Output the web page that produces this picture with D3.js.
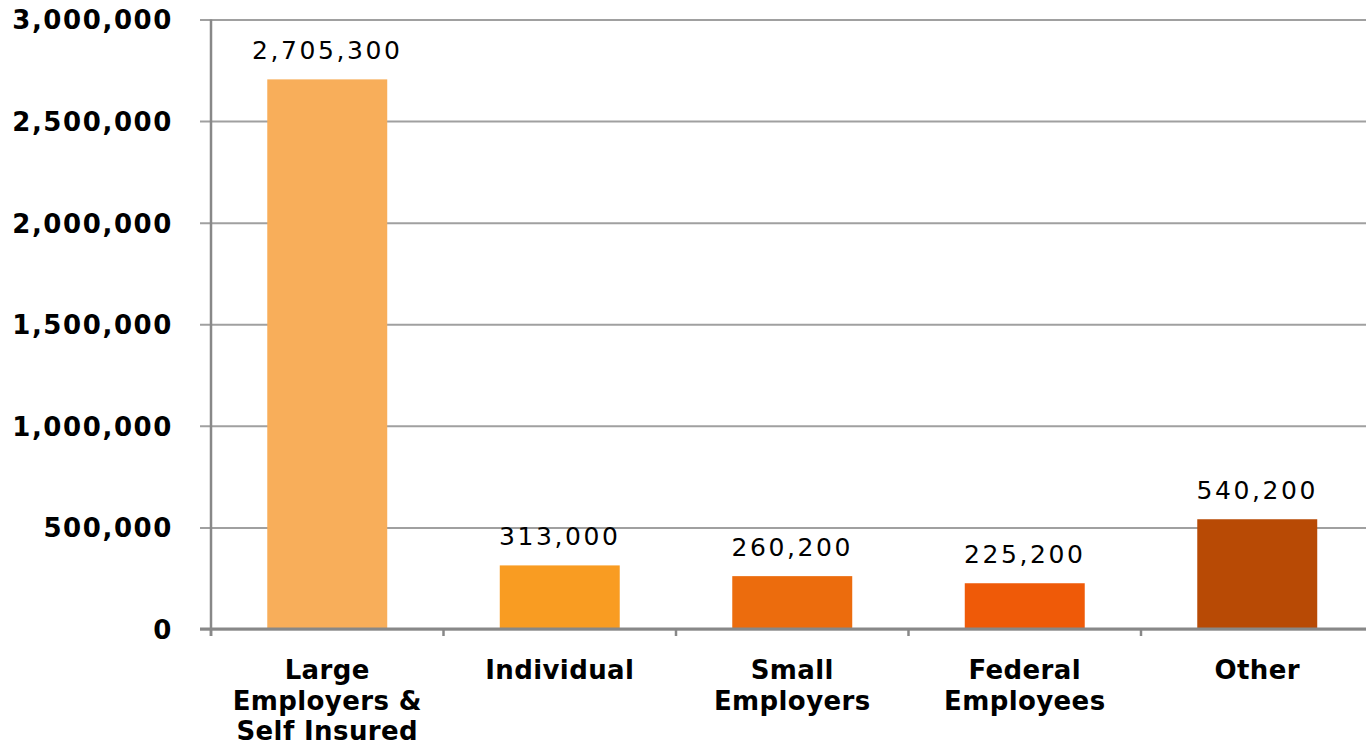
<!DOCTYPE html>
<html>
<head>
<meta charset="utf-8">
<script src="https://cdn.jsdelivr.net/npm/d3@7"></script>
<style>
  html, body { margin: 0; padding: 0; background: #fff; overflow: hidden; }
  svg { display: block; }
</style>
</head>
<body>
<svg id="chart" width="1366" height="748"></svg>
<script>
// Enrollment by coverage source
const categories = [
  ["Large", "Employers &", "Self Insured"],
  ["Individual"],
  ["Small", "Employers"],
  ["Federal", "Employees"],
  ["Other"]
];
const values = [2705300, 313000, 260200, 225200, 540200];
const barColors = ["#F8AE5A", "#F99C22", "#EC6C0D", "#EF5A08", "#B84A05"];
const yTicks = [0, 500000, 1000000, 1500000, 2000000, 2500000, 3000000];

const svg = d3.select("#chart");
const plotLeft = 211, plotRight = 1373.5, plotTop = 19.5, plotBottom = 629;

const x = d3.scaleBand()
  .domain(d3.range(values.length))
  .range([plotLeft, plotRight])
  .paddingInner(0.484)
  .paddingOuter(0.242);

const y = d3.scaleLinear().domain([0, 3000000]).range([plotBottom, plotTop]);

const fmt = d3.format(",");

// horizontal gridlines with left tick marks
const yAxis = d3.axisLeft(y).tickValues(yTicks).tickSize(-(plotRight - plotLeft)).tickSizeOuter(0).tickFormat(fmt).tickPadding(38);
const gy = svg.append("g").attr("transform", `translate(${plotLeft},0)`).call(yAxis);
gy.select(".domain").remove();
gy.selectAll(".tick line")
  .attr("x1", -11)
  .attr("stroke", "#a0a0a0")
  .attr("stroke-width", 2);
gy.selectAll(".tick text")
  .attr("font-family", "'DejaVu Sans', Verdana, sans-serif")
  .attr("font-weight", "bold")
  .attr("font-size", 26)
  .attr("letter-spacing", 1.6)
  .attr("fill", "#000")
  .attr("dy", "0.36em");

// bars
svg.append("g").selectAll("rect")
  .data(values)
  .join("rect")
  .attr("x", (d, i) => x(i))
  .attr("width", x.bandwidth())
  .attr("y", d => y(d))
  .attr("height", d => y(0) - y(d))
  .attr("fill", (d, i) => barColors[i]);

// value labels
svg.append("g").selectAll("text")
  .data(values)
  .join("text")
  .attr("x", (d, i) => x(i) + x.bandwidth() / 2)
  .attr("y", d => y(d) - 20)
  .attr("text-anchor", "middle")
  .attr("font-family", "'DejaVu Sans', Verdana, sans-serif")
  .attr("font-size", 25)
  .attr("letter-spacing", 2.6)
  .attr("fill", "#000")
  .text(d => fmt(d));

// y axis line
svg.append("line")
  .attr("x1", plotLeft).attr("x2", plotLeft)
  .attr("y1", plotTop).attr("y2", plotBottom + 7)
  .attr("stroke", "#888").attr("stroke-width", 2.5);

// x axis line with category boundary ticks
svg.append("line")
  .attr("x1", plotLeft - 11).attr("x2", plotRight)
  .attr("y1", plotBottom).attr("y2", plotBottom)
  .attr("stroke", "#888").attr("stroke-width", 3);

const step = x.step();
svg.append("g").selectAll("line")
  .data(d3.range(values.length + 1))
  .join("line")
  .attr("x1", i => plotLeft + i * step)
  .attr("x2", i => plotLeft + i * step)
  .attr("y1", plotBottom)
  .attr("y2", plotBottom + 7)
  .attr("stroke", "#888").attr("stroke-width", 2.5);

// category labels
const cat = svg.append("g").selectAll("text")
  .data(categories)
  .join("text")
  .attr("x", (d, i) => x(i) + x.bandwidth() / 2)
  .attr("y", 679)
  .attr("text-anchor", "middle")
  .attr("font-family", "'DejaVu Sans', Verdana, sans-serif")
  .attr("font-weight", "bold")
  .attr("font-size", 26)
  .attr("letter-spacing", 0.4)
  .attr("fill", "#000");
cat.selectAll("tspan")
  .data((d, i) => d.map(t => ({ t, i })))
  .join("tspan")
  .attr("x", d => x(d.i) + x.bandwidth() / 2)
  .attr("dy", (d, j) => j === 0 ? 0 : 30.5)
  .text(d => d.t);
</script>
</body>
</html>
